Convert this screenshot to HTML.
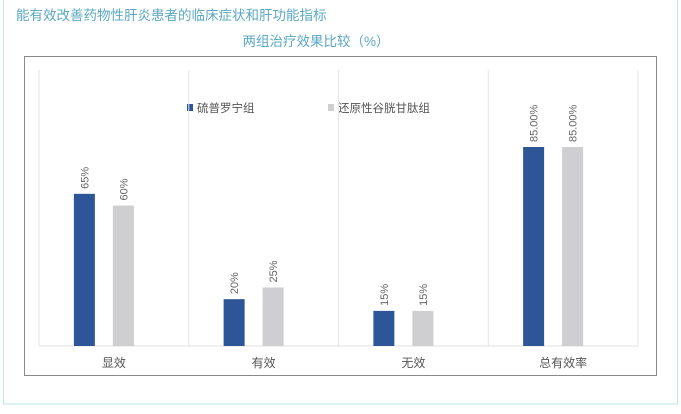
<!DOCTYPE html>
<html><head><meta charset="utf-8"><style>
body{margin:0;width:681px;height:409px;background:#fff;overflow:hidden;font-family:"Liberation Sans","Noto Sans CJK SC",sans-serif;}
</style></head><body>
<svg width="681" height="409" xmlns="http://www.w3.org/2000/svg" font-family="Liberation Sans, Noto Sans CJK SC, sans-serif">
<rect x="3.5" y="-1" width="674" height="405" fill="none" stroke="#b8e6ee" stroke-width="1"/>
<text x="16" y="20" font-size="13.5" fill="#5ba8c2">能有效改善药物性肝炎患者的临床症状和肝功能指标</text>
<text x="316" y="46" font-size="13.5" fill="#5ba8c2" text-anchor="middle">两组治疗效果比较（%）</text>
<rect x="24.5" y="56.5" width="632" height="319" fill="#fff" stroke="#8a8a8a" stroke-width="1"/>
<g>
<rect x="187" y="104" width="6" height="7" fill="#2e5597"/>
<text x="197" y="112" font-size="11.5" fill="#555">硫普罗宁组</text>
<rect x="328" y="104" width="6" height="7" fill="#cfcfd1"/>
<text x="338" y="112" font-size="11.5" fill="#555">还原性谷胱甘肽组</text>
</g>
<g id="plot"></g>
</svg>
<script>
const categories=["显效","有效","无效","总有效率"];
const seriesA=[65,20,15,85];
const seriesB=[60,25,15,85];
const labelsA=["65%","20%","15%","85.00%"];
const labelsB=["60%","25%","15%","85.00%"];
const NS="http://www.w3.org/2000/svg";
const g=document.getElementById("plot");
const x0=39,x1=638,base=346,yTop=147,vmax=85;
const cw=(x1-x0)/categories.length;
function yScale(v){return base-(v/vmax)*(base-yTop);}
function mk(t,a){const e=document.createElementNS(NS,t);for(const k in a)e.setAttribute(k,a[k]);g.appendChild(e);return e;}
for(let i=0;i<=categories.length;i++){
 const l=mk("line",{x1:x0+i*cw,x2:x0+i*cw,y1:70,y2:base,stroke:"#e6e6e6"});
 
 
}
const ax=mk("line",{x1:x0,x2:x1,y1:base,y2:base,stroke:"#e0e0e0"});


categories.forEach((c,i)=>{
 const cx=x0+i*cw+cw/2;
 [[seriesA,labelsA,"#2e5597",-40,"bar-a"],[seriesB,labelsB,"#cfcfd1",-1,"bar-b"]].forEach(([s,lb,col,off,nm])=>{
  const bx=cx+off, yy=yScale(s[i]);
  const r=mk("rect",{x:bx,y:yy,width:21,height:base-yy,fill:col});
  
  
  const t=mk("text",{x:0,y:0,"font-size":"11",fill:"#666",transform:`translate(${bx+14.5},${yy-5}) rotate(-90)`});
  t.textContent=lb[i];
  
  
 });
 const t=mk("text",{x:cx,y:367,"font-size":"12",fill:"#555","text-anchor":"middle"});
 t.textContent=c;
 
 
});
</script>
</body></html>
